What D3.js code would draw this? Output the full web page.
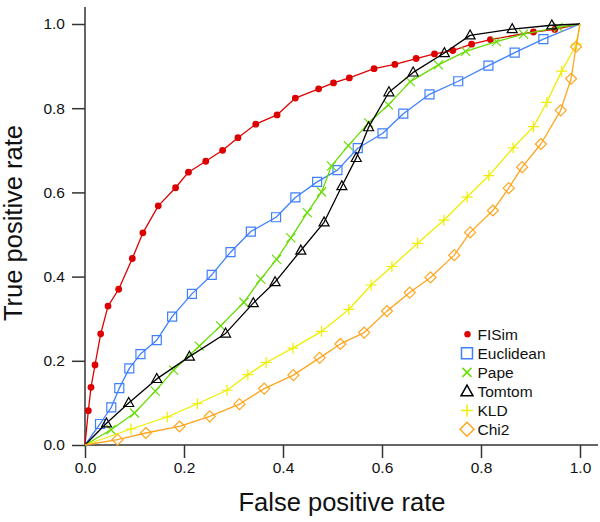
<!DOCTYPE html>
<html>
<head>
<meta charset="utf-8">
<script src="https://cdn.jsdelivr.net/npm/d3@7"></script>
<style>
  html, body { margin: 0; padding: 0; background: #fff; }
  svg { display: block; font-family: Arial, "Liberation Sans", Helvetica, sans-serif; }
</style>
</head>
<body>
<svg id="chart" width="600" height="522"></svg>
<script>
// ---- Data ----
const seriesNames = ["FISim", "Euclidean", "Pape", "Tomtom", "KLD", "Chi2"];

const fisimFPR = [0, 0.0067, 0.0121, 0.0202, 0.0317, 0.0465, 0.0681, 0.0956, 0.117, 0.148, 0.183, 0.209, 0.244, 0.278, 0.309, 0.345, 0.388, 0.425, 0.472, 0.502, 0.534, 0.584, 0.626, 0.669, 0.706, 0.743, 0.781, 0.819, 0.906, 0.949, 1];
const fisimTPR = [0, 0.0815, 0.137, 0.190, 0.264, 0.330, 0.370, 0.443, 0.504, 0.568, 0.611, 0.648, 0.674, 0.700, 0.730, 0.762, 0.784, 0.824, 0.846, 0.860, 0.872, 0.894, 0.904, 0.918, 0.929, 0.937, 0.952, 0.963, 0.981, 0.987, 1];

const euclidFPR = [0, 0.0303, 0.0531, 0.0693, 0.0895, 0.112, 0.145, 0.176, 0.216, 0.256, 0.294, 0.335, 0.386, 0.425, 0.469, 0.510, 0.551, 0.601, 0.643, 0.696, 0.754, 0.815, 0.868, 0.926, 1];
const euclidTPR = [0, 0.0499, 0.0895, 0.135, 0.182, 0.216, 0.249, 0.305, 0.359, 0.404, 0.458, 0.507, 0.541, 0.588, 0.625, 0.653, 0.705, 0.740, 0.787, 0.833, 0.864, 0.901, 0.932, 0.964, 1];

const papeFPR = [0, 0.0525, 0.100, 0.142, 0.179, 0.231, 0.274, 0.321, 0.355, 0.387, 0.416, 0.449, 0.478, 0.498, 0.532, 0.573, 0.613, 0.657, 0.714, 0.769, 0.831, 0.886, 0.956, 1];
const papeTPR = [0, 0.0363, 0.076, 0.128, 0.178, 0.235, 0.283, 0.339, 0.394, 0.441, 0.492, 0.552, 0.601, 0.663, 0.711, 0.765, 0.808, 0.863, 0.903, 0.935, 0.958, 0.976, 0.992, 1];

const tomtomFPR = [0, 0.0434, 0.0883, 0.145, 0.211, 0.284, 0.340, 0.384, 0.436, 0.483, 0.519, 0.548, 0.573, 0.614, 0.663, 0.726, 0.778, 0.863, 0.943, 1];
const tomtomTPR = [0, 0.0515, 0.100, 0.157, 0.210, 0.265, 0.337, 0.387, 0.462, 0.529, 0.615, 0.682, 0.755, 0.838, 0.885, 0.931, 0.973, 0.988, 0.997, 1];

const kldFPR = [0, 0.0929, 0.166, 0.227, 0.287, 0.329, 0.366, 0.420, 0.478, 0.533, 0.578, 0.620, 0.672, 0.725, 0.772, 0.816, 0.865, 0.906, 0.933, 0.963, 0.993, 1];
const kldTPR = [0, 0.038, 0.0665, 0.098, 0.130, 0.167, 0.196, 0.230, 0.270, 0.322, 0.380, 0.424, 0.479, 0.534, 0.589, 0.640, 0.706, 0.756, 0.814, 0.888, 0.952, 1];

const chi2FPR = [0, 0.0657, 0.123, 0.191, 0.252, 0.312, 0.362, 0.421, 0.474, 0.516, 0.564, 0.610, 0.656, 0.698, 0.746, 0.778, 0.824, 0.856, 0.883, 0.921, 0.961, 0.982, 0.992, 1];
const chi2TPR = [0, 0.0126, 0.0285, 0.044, 0.068, 0.097, 0.134, 0.166, 0.207, 0.240, 0.267, 0.318, 0.362, 0.398, 0.451, 0.505, 0.557, 0.610, 0.660, 0.715, 0.795, 0.870, 0.946, 1];

const xTicks = [0, 0.2, 0.4, 0.6, 0.8, 1.0];
const yTicks = [0, 0.2, 0.4, 0.6, 0.8, 1.0];
const xTitle = "False positive rate";
const yTitle = "True positive rate";

// ---- Build series table ----
const series = [
  { name: seriesNames[0], fpr: fisimFPR,  tpr: fisimTPR,  color: "#dd0000", mark: "circle" },
  { name: seriesNames[1], fpr: euclidFPR, tpr: euclidTPR, color: "#3f80ff", mark: "square" },
  { name: seriesNames[2], fpr: papeFPR,   tpr: papeTPR,   color: "#66dd00", mark: "times" },
  { name: seriesNames[3], fpr: tomtomFPR, tpr: tomtomTPR, color: "#000000", mark: "triangle" },
  { name: seriesNames[4], fpr: kldFPR,    tpr: kldTPR,    color: "#eeee00", mark: "plus" },
  { name: seriesNames[5], fpr: chi2FPR,   tpr: chi2TPR,   color: "#ffa51e", mark: "diamond" }
];

// ---- Layout ----
const svg = d3.select("#chart");
const x = d3.scaleLinear().domain([0, 1]).range([85, 580]);
const y = d3.scaleLinear().domain([0, 1]).range([445, 24]);
const axisColor = "#333";

// marker path shapes
function markPath(kind, s) {
  const h = s / 2;
  switch (kind) {
    case "square": return `M${-h},${-h}H${h}V${h}H${-h}Z`;
    case "times": return `M${-h},${-h}L${h},${h}M${-h},${h}L${h},${-h}`;
    case "plus": return `M${-h},0H${h}M0,${-h}V${h}`;
    case "triangle": { const th = s * 0.9; return `M0,${-th * 0.6}L${h},${th * 0.4}L${-h},${th * 0.4}Z`; }
    case "diamond": return `M0,${-h}L${h},0L0,${h}L${-h},0Z`;
  }
  return "";
}
const markSize = { square: 9, times: 9, plus: 11, triangle: 10, diamond: 11 };

// ---- Axes ----
const xAxis = d3.axisBottom(x).tickValues(xTicks).tickFormat(d3.format(".1f")).tickSizeOuter(0).tickSizeInner(13).tickPadding(4);
const yAxis = d3.axisLeft(y).tickValues(yTicks).tickFormat(d3.format(".1f")).tickSizeOuter(0).tickSizeInner(13).tickPadding(7);

const gx = svg.append("g").attr("transform", `translate(0,${y(0)})`).call(xAxis);
const gy = svg.append("g").attr("transform", `translate(${x(0)},0)`).call(yAxis);
[gx, gy].forEach(g => {
  g.select(".domain").remove();
  g.selectAll(".tick line").attr("stroke", axisColor).attr("stroke-width", 1.5);
  g.selectAll(".tick text").attr("fill", "#111").style("font-size", "15.5px");
});
// extended axis lines
svg.append("line").attr("x1", x(0)).attr("x2", 598).attr("y1", y(0)).attr("y2", y(0))
  .attr("stroke", axisColor).attr("stroke-width", 1.5);
svg.append("line").attr("x1", x(0)).attr("x2", x(0)).attr("y1", 7).attr("y2", y(0))
  .attr("stroke", axisColor).attr("stroke-width", 1.5);

// ---- Titles ----
svg.append("text").attr("x", 342).attr("y", 511).attr("text-anchor", "middle")
  .style("font-size", "25.5px").attr("fill", "#111").text(xTitle);
svg.append("text").attr("transform", "translate(22,223) rotate(-90)").attr("text-anchor", "middle")
  .style("font-size", "25.5px").attr("fill", "#111").text(yTitle);

// ---- Series ----
const line = d3.line().x(d => x(d[0])).y(d => y(d[1]));
const plotG = svg.append("g");
series.forEach(s => {
  const pts = s.fpr.map((v, i) => [v, s.tpr[i]]);
  const g = plotG.append("g");
  g.append("path").datum(pts).attr("d", line).attr("fill", "none")
    .attr("stroke", s.color).attr("stroke-width", 1.3).attr("stroke-linejoin", "round");
  const inner = pts.slice(1, pts.length - 1);
  if (s.mark === "circle") {
    g.selectAll("circle").data(inner).join("circle")
      .attr("cx", d => x(d[0])).attr("cy", d => y(d[1])).attr("r", 3.4).attr("fill", s.color);
  } else {
    g.selectAll("path.m").data(inner).join("path").attr("class", "m")
      .attr("transform", d => `translate(${x(d[0])},${y(d[1])})`)
      .attr("d", markPath(s.mark, markSize[s.mark]))
      .attr("fill", "none").attr("stroke", s.color).attr("stroke-width", 1.2);
  }
});

// ---- Legend ----
const leg = svg.append("g");
const legBase = [340, 359, 378.2, 397.3, 416.2, 435];
series.forEach((s, i) => {
  const cy = legBase[i] - 5.8;
  if (s.mark === "circle") {
    leg.append("circle").attr("cx", 467.5).attr("cy", cy).attr("r", 3.2).attr("fill", s.color);
  } else {
    const sz = { square: 11, times: 9, plus: 12, triangle: 12, diamond: 14 }[s.mark];
    leg.append("path").attr("transform", `translate(467,${cy})`)
      .attr("d", markPath(s.mark, sz)).attr("fill", "none")
      .attr("stroke", s.color).attr("stroke-width", 1.5);
  }
  leg.append("text").attr("x", 477.5).attr("y", legBase[i]).style("font-size", "15.5px")
    .attr("fill", "#111").text(s.name);
});
</script>
</body>
</html>
